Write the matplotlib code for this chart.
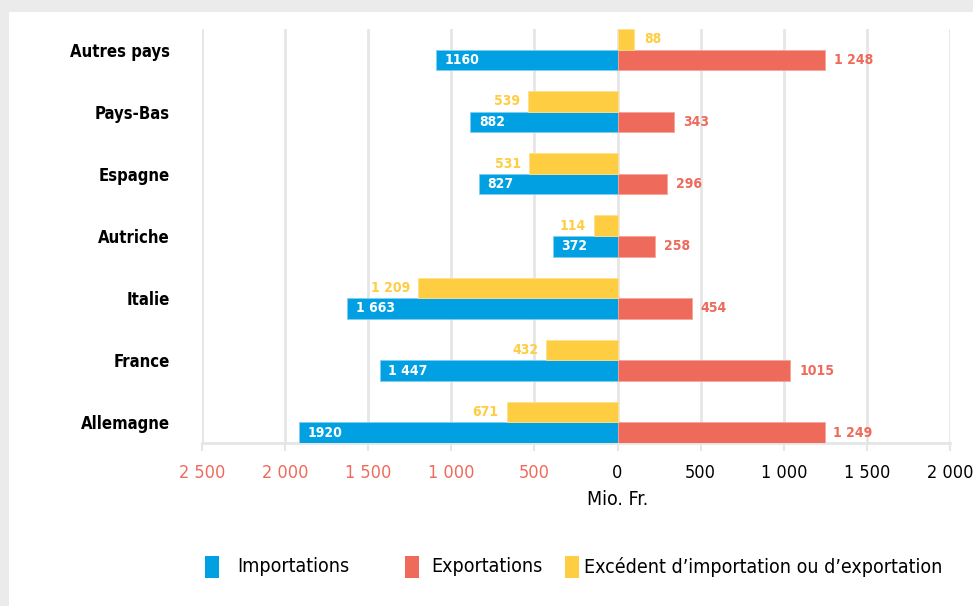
import matplotlib
matplotlib.use("Agg")
import matplotlib.pyplot as plt
from matplotlib.patches import Rectangle
import numpy as np

plt.rcParams['font.family'] = ['DejaVu Sans']
plt.rcParams['font.stretch'] = 'condensed'

countries = ["Allemagne", "France", "Italie", "Autriche", "Espagne", "Pays-Bas", "Autres pays"]
# bar lengths as drawn in the picture (Mio. Fr.)
imports = [1915, 1430, 1625, 390, 835, 885, 1090]
exports = [1245, 1040, 445, 228, 300, 340, 1250]
excess = [-668, -428, -1201, -144, -532, -538, 96]
# printed value labels
import_labels = ["1920", "1 447", "1 663", "372", "827", "882", "1160"]
export_labels = ["1 249", "1015", "454", "258", "296", "343", "1 248"]
excess_labels = ["671", "432", "1 209", "114", "531", "539", "88"]
xticks = [-2500, -2000, -1500, -1000, -500, 0, 500, 1000, 1500, 2000]
xtick_labels = ["2 500", "2 000", "1 500", "1 000", "500", "0", "500", "1 000", "1 500", "2 000"]

BLUE = "#00A0E3"
RED = "#EE6B5C"
YELLOW = "#FFCD41"
GRID = "#E6E6E6"

fig = plt.figure(figsize=(9.73, 6.06), dpi=100)
fig.patch.set_facecolor("#EBEBEB")
fig.add_artist(Rectangle((9/973, 0), 1, 1 - 12/606, transform=fig.transFigure,
                         facecolor="white", edgecolor="none", zorder=0))

ax = fig.add_axes([202/973, (606-443)/606, (950-202)/973, (443-29)/606])
ax.set_facecolor("none")

y = np.arange(len(countries))
h = 0.33
ax.barh(y - h/2, [-v for v in imports], height=h, color=BLUE, edgecolor="#7FCFF1", linewidth=0.6, zorder=3)
ax.barh(y - h/2, exports, height=h, color=RED, edgecolor="#F5A59B", linewidth=0.6, zorder=3)
ax.barh(y + h/2, excess, height=h, color=YELLOW, edgecolor="#FFE08A", linewidth=0.6, zorder=3)

lab_kw = dict(fontsize=10, fontweight="bold", va="center", zorder=4)
for i in range(len(countries)):
    ax.text(-imports[i] + 50, y[i] - h/2, import_labels[i], color="white", ha="left", **lab_kw)
    ax.text(exports[i] + 54, y[i] - h/2, export_labels[i], color=RED, ha="left", **lab_kw)
    if excess[i] < 0:
        ax.text(excess[i] - 48, y[i] + h/2, excess_labels[i], color=YELLOW, ha="right", **lab_kw)
    else:
        ax.text(excess[i] + 66, y[i] + h/2, excess_labels[i], color=YELLOW, ha="left", **lab_kw)

ax.set_xlim(-2500, 2000)
ax.set_ylim(-h, len(countries) - 1 + h)
for xv in xticks:
    ax.axvline(xv, color=GRID, linewidth=2, zorder=1)

ax.set_xticks(xticks)
ax.set_xticklabels(xtick_labels, fontsize=13)
for lbl, xv in zip(ax.get_xticklabels(), xticks):
    lbl.set_color(RED if xv < 0 else "black")
ax.tick_params(axis="x", length=6, width=1.5, color=GRID, pad=9)
ax.set_yticks(y)
ax.set_yticklabels(countries, fontsize=12, fontweight="bold")
ax.tick_params(axis="y", length=0, pad=23)
for s in ["top", "right", "left"]:
    ax.spines[s].set_visible(False)
ax.spines["bottom"].set_color(GRID)
ax.spines["bottom"].set_linewidth(2)
ax.set_xlabel("Mio. Fr.", fontsize=14)
ax.xaxis.set_label_coords(2500/4500, -0.113)

# legend
legend_items = [(205, BLUE, "Importations", 237), (405, RED, "Exportations", 431),
                (565, YELLOW, "Excédent d’importation ou d’exportation", 584)]
for xs, col, txt, xt in legend_items:
    fig.add_artist(Rectangle((xs/973, 1 - 578/606), 14/973, 22/606, transform=fig.transFigure,
                             facecolor=col, edgecolor="none"))
    fig.text(xt/973, 1 - 567/606, txt, fontsize=14, va="center", ha="left")

fig.savefig("out.png", dpi=100, facecolor=fig.get_facecolor())
